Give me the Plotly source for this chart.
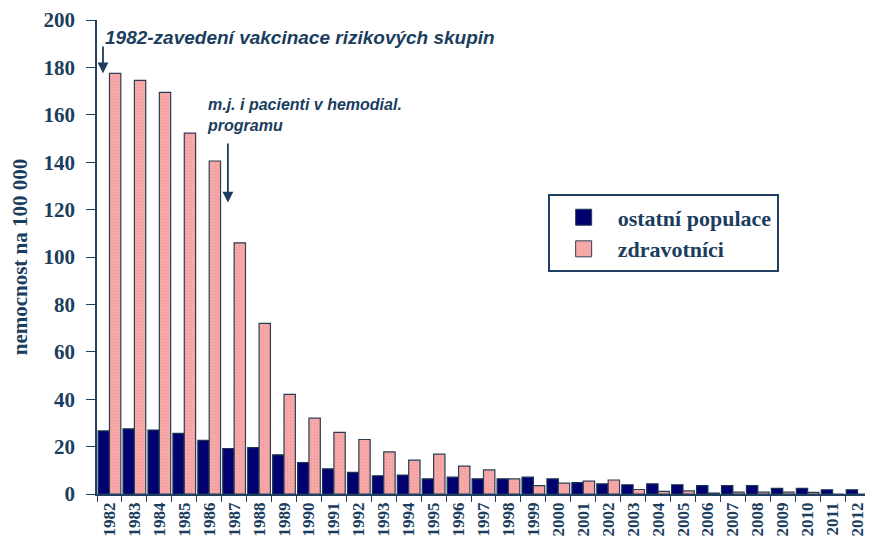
import plotly.graph_objects as go

years = [str(y) for y in range(1982, 2013)]
ostatni = [26.6, 27.5, 27.0, 25.6, 22.6, 19.2, 19.6, 16.5, 13.3, 10.6, 9.1, 7.7, 8.0,
           6.4, 7.1, 6.4, 6.4, 7.1, 6.4, 4.8, 4.3, 3.9, 4.3, 3.9, 3.5, 3.5, 3.5, 2.4,
           2.4, 1.8, 1.8]
zdravotnici = [177.5, 174.5, 169.5, 152.3, 140.5, 106, 72, 42, 32, 26, 23, 17.8, 14.3,
               16.8, 11.8, 10.2, 6.4, 3.5, 4.6, 5.4, 5.9, 1.9, 1.1, 1.3, 0.4, 0.8, 0.8,
               0.8, 0.7, 0, 0]
y_ticks = list(range(0, 201, 20))
series_names = ["ostatní populace", "zdravotníci"]

TXT = "#1b3d5e"
SERIF = "Liberation Serif"
BLUE = "#000070"
PINK = "#f7a9a9"

fig = go.Figure()
fig.add_trace(go.Bar(
    x=years, y=ostatni, name=series_names[0], showlegend=False,
    marker=dict(color=BLUE, line=dict(color="#1b3350", width=1.2)),
))
fig.add_trace(go.Bar(
    x=years, y=zdravotnici, name=series_names[1], showlegend=False,
    marker=dict(color=PINK, line=dict(color="#2a3f55", width=1.2),
                pattern=dict(shape=".", fgcolor="#e98a8a", size=3, solidity=0.25)),
))
# legend-only entries (larger square symbols)
for nm, col, lg in [(series_names[0], BLUE, "a"), (series_names[1], PINK, "b")]:
    fig.add_trace(go.Scatter(
        x=[None], y=[None], mode="markers", name="<b>" + nm + "</b>",
        legendgroup=lg,
        marker=dict(symbol="square", size=16, color=col, line=dict(color="#2a3f55", width=1)),
    ))

fig.update_layout(
    width=865, height=531,
    margin=dict(l=89, r=3, t=12, b=45),
    paper_bgcolor="white", plot_bgcolor="white",
    barmode="group", bargap=0.09, bargroupgap=0.0,
    showlegend=True,
    legend=dict(
        x=0.583, y=0.632, xanchor="left", yanchor="top",
        bordercolor="#1f4060", borderwidth=2, bgcolor="white",
        font=dict(family=SERIF, size=22, color=TXT),
        itemwidth=58, traceorder="grouped", tracegroupgap=0,
    ),
    font=dict(family=SERIF, color=TXT),
)

fig.update_xaxes(
    type="category", tickangle=-90,
    tickvals=years, ticktext=["<b>" + y + "</b>" for y in years],
    tickfont=dict(family=SERIF, size=17, color=TXT),
    showline=True, linecolor="#1f4060", linewidth=1.5,
    ticks="outside", ticklen=6, tickcolor="#1f4060", tickson="boundaries",
    showgrid=False, range=[-0.5, 30.5], ticklabeloverflow="allow",
    automargin="bottom",
)
fig.update_yaxes(
    range=[0, 200], tickvals=y_ticks, ticktext=["<b>%d</b>" % v for v in y_ticks],
    tickfont=dict(family=SERIF, size=21, color=TXT),
    showline=True, linecolor="#1f4060", linewidth=1.5,
    ticks="outside", ticklen=9, tickcolor="#1f4060", ticklabelstandoff=7,
    ticklabeloverflow="allow", automargin="left",
    showgrid=False, zeroline=False,
    title=dict(text="<b>nemocnost na 100 000</b>",
               font=dict(family=SERIF, size=21, color=TXT),
               standoff=10),
)

# Annotations
fig.add_annotation(
    x=-0.27, y=192.8, xref="x", yref="y", text="<b><i>1982-zavedení vakcinace rizikových skupin</i></b>",
    showarrow=False, xanchor="left", yanchor="middle",
    font=dict(family="Liberation Sans", size=19, color=TXT),
)
fig.add_annotation(
    x=-0.26, y=177.5, ax=-0.26, ay=189.5, xref="x", yref="y", axref="x", ayref="y",
    text="", showarrow=True, arrowhead=2, arrowsize=1.2, arrowwidth=1.8, arrowcolor=TXT,
)
fig.add_annotation(
    x=3.83, y=160, xref="x", yref="y", text="<b><i>m.j. i pacienti v hemodial.<br>programu</i></b>",
    showarrow=False, xanchor="left", yanchor="middle", align="left",
    font=dict(family="Liberation Sans", size=16, color=TXT),
)
fig.add_annotation(
    x=4.75, y=123, ax=4.75, ay=148.5, xref="x", yref="y", axref="x", ayref="y",
    text="", showarrow=True, arrowhead=2, arrowsize=1.2, arrowwidth=1.8, arrowcolor=TXT,
)

fig.write_html("out.html")
